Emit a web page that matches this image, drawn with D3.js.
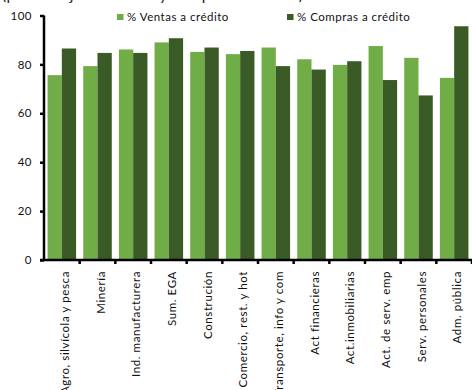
<!DOCTYPE html>
<html>
<head>
<meta charset="utf-8">
<script src="https://cdn.jsdelivr.net/npm/d3@7"></script>
<style>
  html, body { margin: 0; padding: 0; background: #fff; }
  svg { display: block; font-family: Lato, "Open Sans", sans-serif; }
</style>
</head>
<body>
<svg id="chart" width="472" height="390"></svg>
<script>
// Sectores económicos
const categories = [
  "Agro, silvícola y pesca",
  "Minería",
  "Ind. manufacturera",
  "Sum. EGA",
  "Construción",
  "Comercio, rest. y hot",
  "Transporte, info y com",
  "Act financieras",
  "Act.inmobiliarias",
  "Act. de serv. emp",
  "Serv. personales",
  "Adm. pública"
];
// % de ventas a crédito
const ventas = [75.6, 79.3, 86.1, 89.0, 85.1, 84.2, 86.9, 82.1, 79.8, 87.5, 82.7, 74.5];
// % de compras a crédito
const compras = [86.5, 84.7, 84.7, 90.7, 86.9, 85.5, 79.3, 77.9, 81.3, 73.6, 67.3, 95.6];
const seriesNames = ["% Ventas a crédito", "% Compras a crédito"];
const yTicks = [0, 20, 40, 60, 80, 100];
const subtitle = "(porcentaje de ventas y compras a crédito)";

const colors = ["#70ad47", "#3a5a26"];

const svg = d3.select("#chart");
const margin = { left: 44, right: 0, top: 15.5, bottom: 130 };
const W = 472, H = 390;
const plotBottom = 260;

const x = d3.scaleBand()
  .domain(categories)
  .range([margin.left, W])
  .paddingInner(0.2)
  .paddingOuter(0.1);

const xs = d3.scaleBand()
  .domain([0, 1])
  .range([0, x.bandwidth()]);

const y = d3.scaleLinear()
  .domain([0, 100])
  .range([plotBottom, margin.top]);

// Subtitle, running above the top edge of the page
svg.append("text")
  .attr("x", 2)
  .attr("y", 0)
  .attr("font-size", 15.5)
  .attr("letter-spacing", 0.4)
  .attr("fill", "#222")
  .text(subtitle);

// Bars
const groups = svg.append("g").selectAll("g")
  .data(categories)
  .join("g")
  .attr("transform", d => `translate(${x(d)},0)`);

groups.selectAll("rect")
  .data((d, i) => [ventas[i], compras[i]])
  .join("rect")
  .attr("x", (d, j) => xs(j))
  .attr("width", xs.bandwidth())
  .attr("y", d => y(d))
  .attr("height", d => plotBottom - y(d))
  .attr("fill", (d, j) => colors[j]);

// Y axis
const yAxis = svg.append("g")
  .attr("transform", `translate(${margin.left},0)`)
  .call(d3.axisLeft(y).tickValues(yTicks).tickSize(4).tickPadding(8));
yAxis.select(".domain").attr("stroke", "#000").attr("stroke-width", 2.5)
  .attr("d", `M0,${y(100)}V${plotBottom}`);
yAxis.selectAll(".tick line").attr("stroke", "#000").attr("stroke-width", 2.5);
yAxis.selectAll(".tick text").attr("font-size", 11.5).attr("fill", "#111")
  .attr("letter-spacing", 0.5)
  .attr("font-family", "Lato, sans-serif");

// X axis with ticks at category boundaries
const boundaries = d3.range(categories.length + 1).map(k => margin.left + k * x.step());
svg.append("line")
  .attr("x1", margin.left - 4).attr("x2", W)
  .attr("y1", plotBottom).attr("y2", plotBottom)
  .attr("stroke", "#000").attr("stroke-width", 2.5);
svg.append("g").selectAll("line")
  .data(boundaries.slice(1))
  .join("line")
  .attr("x1", d => d).attr("x2", d => d)
  .attr("y1", plotBottom).attr("y2", plotBottom + 4)
  .attr("stroke", "#000").attr("stroke-width", 2.5);

// Category labels, rotated
svg.append("g").selectAll("text")
  .data(categories)
  .join("text")
  .attr("transform", d => `translate(${x(d) + x.bandwidth() / 2 + 3},${plotBottom + 11}) rotate(-90)`)
  .attr("text-anchor", "end")
  .attr("dy", "0.35em")
  .attr("font-size", 11.5)
  .attr("letter-spacing", 0.6)
  .attr("fill", "#111")
  .text(d => d);

// Legend
const legend = svg.append("g");
const legendX = [117, 287];
seriesNames.forEach((name, i) => {
  const g = legend.append("g").attr("transform", `translate(${legendX[i]},14)`);
  g.append("rect").attr("width", 6.5).attr("height", 6).attr("fill", colors[i]);
  g.append("text").attr("x", 10).attr("y", 6.5)
    .attr("font-size", 11.5).attr("letter-spacing", 0.5).attr("fill", "#111")
    .text(name);
});
</script>
</body>
</html>
